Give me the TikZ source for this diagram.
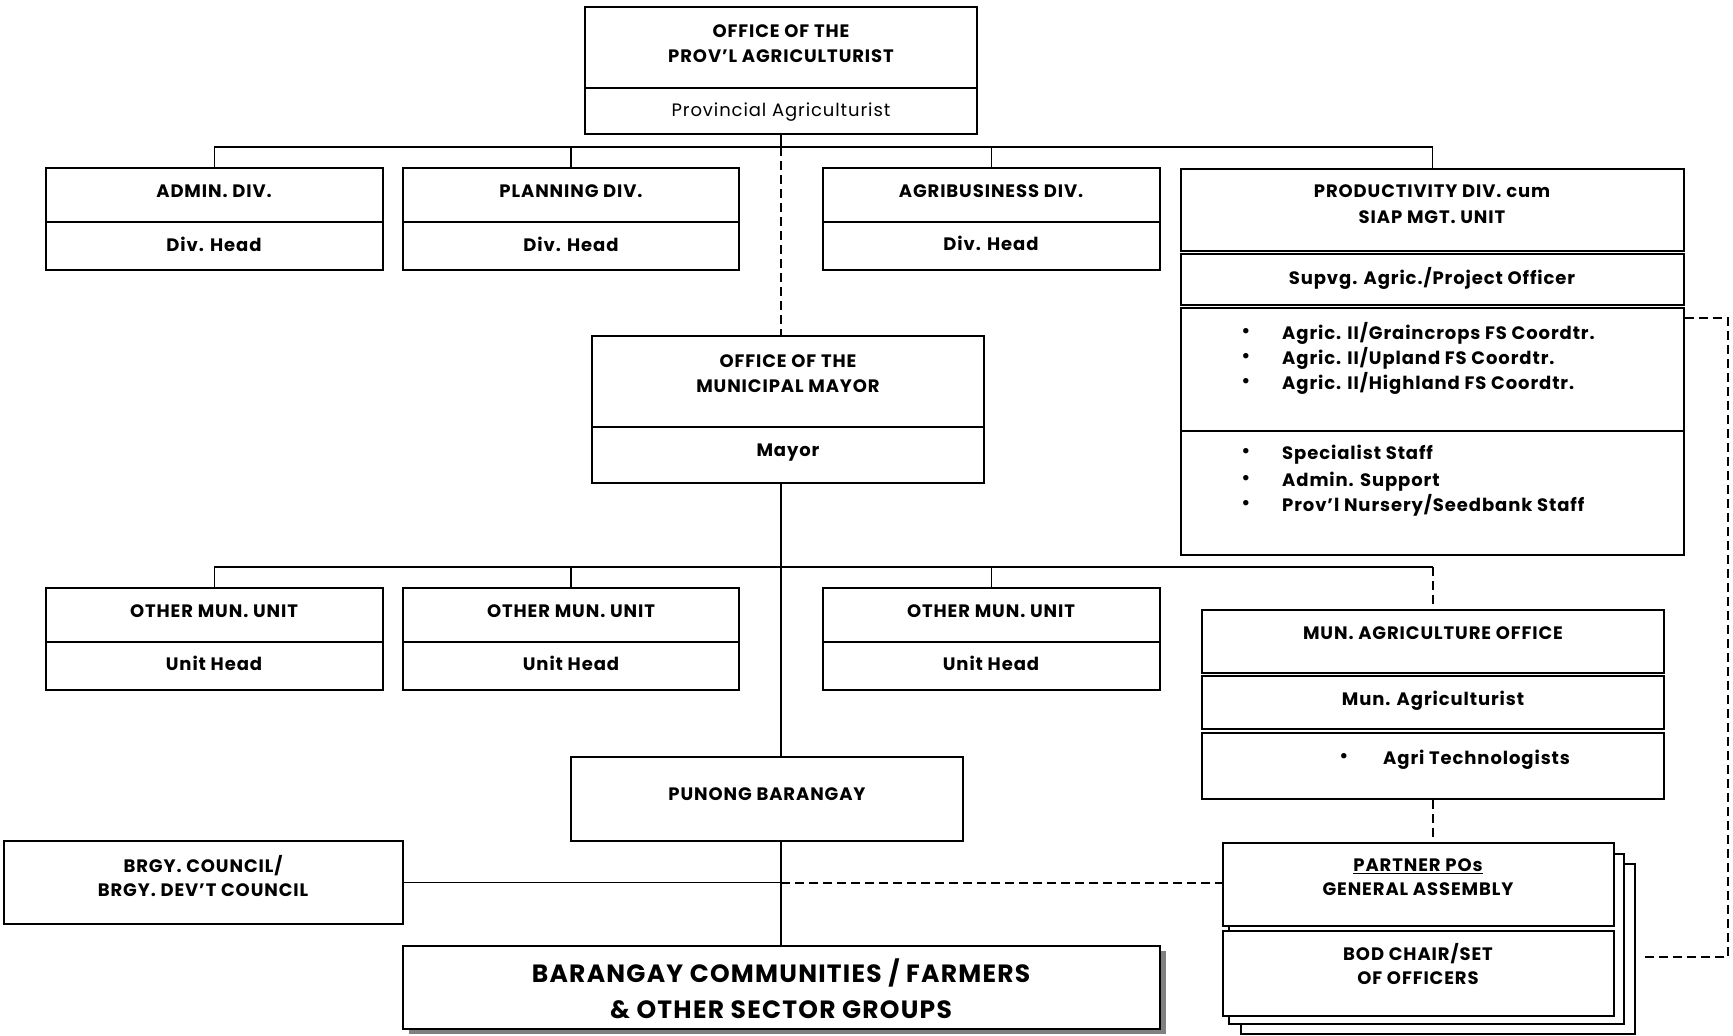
\documentclass[tikz,border=0pt]{standalone}
\usepackage{fontspec}
\setmainfont{Poppins}[LetterSpace=5]
\usetikzlibrary{fit}
\begin{document}
\begin{tikzpicture}[x=1pt,y=-1pt,
  frame/.style={draw, line width=1.6pt, fill=white, inner sep=0pt, rectangle},
  conn/.style={line width=1.5pt},
  dconn/.style={conn, dash pattern=on 9pt off 5pt},
  hd/.style={font=\bfseries\fontsize{18}{21}\selectfont, anchor=base, yshift=-6.3pt, inner sep=0pt},
  rg/.style={font=\fontsize{18}{21}\selectfont, anchor=base, yshift=-6.3pt, inner sep=0pt},
  big/.style={font=\bfseries\fontsize{25}{29}\selectfont, anchor=base, yshift=-8.7pt, inner sep=0pt},
  item/.style={hd, anchor=base west},
  dot/.style={font=\fontsize{22}{24}\selectfont, anchor=center, inner sep=0pt},
  shadowbox/.style={fill=black!50, draw=none, inner sep=0pt, rectangle}]
\useasboundingbox (0,0) rectangle (1733,1036);

% ---- Office of the Provincial Agriculturist
\node[frame, fit={(585,7) (977,88)}] (pa) {};
\node[frame, fit={(585,88) (977,134)}] (pah) {};

% ---- Provincial divisions
\node[frame, fit={(46,168) (383,222)}] (adm) {};
\node[frame, fit={(46,222) (383,270)}] (admh) {};
\node[frame, fit={(403,168) (739,222)}] (pln) {};
\node[frame, fit={(403,222) (739,270)}] (plnh) {};
\node[frame, fit={(823,168) (1160,222)}] (agb) {};
\node[frame, fit={(823,222) (1160,270)}] (agbh) {};
\node[frame, fit={(1181,169) (1684,251)}] (prd) {};
\node[frame, fit={(1181,254) (1684,305)}] (prdo) {};
\node[frame, fit={(1181,308) (1684,431)}] (prdc) {};
\node[frame, fit={(1181,431) (1684,555)}] (prds) {};

% ---- Office of the Municipal Mayor
\node[frame, fit={(592,336) (984,427)}] (may) {};
\node[frame, fit={(592,427) (984,483)}] (mayh) {};

% ---- Municipal units
\node[frame, fit={(46,588) (383,642)}] (ou1) {};
\node[frame, fit={(46,642) (383,690)}] (ou1h) {};
\node[frame, fit={(403,588) (739,642)}] (ou2) {};
\node[frame, fit={(403,642) (739,690)}] (ou2h) {};
\node[frame, fit={(823,588) (1160,642)}] (ou3) {};
\node[frame, fit={(823,642) (1160,690)}] (ou3h) {};
\node[frame, fit={(1202,610) (1664,673)}] (mao) {};
\node[frame, fit={(1202,676) (1664,729)}] (maoh) {};
\node[frame, fit={(1202,733) (1664,799)}] (maot) {};

% ---- Barangay level
\node[frame, fit={(571,757) (963,841)}] (pb) {};
\node[frame, fit={(4,841) (403,924)}] (bc) {};
\node[shadowbox, fit={(409,951) (1166,1034)}] (brgys) {};
\node[frame, fit={(403,946) (1160,1029)}] (brgy) {};

% ---- Partner POs (stacked sheets)
\node[frame, fit={(1241,864) (1635,1034)}] (po3) {};
\node[frame, fit={(1229,854) (1624,1024)}] (po2) {};
\node[frame, fit={(1223,843) (1614,926)}] (pog) {};
\node[frame, fit={(1223,931) (1614,1016)}] (pob) {};

% ---- Connectors
\coordinate (bus1) at (781,147);
\coordinate (bus2) at (781,567);
\coordinate (jn) at (781,883);
\coordinate (rc0) at (1728,318);
\coordinate (rc1) at (1728,957);
\coordinate (rc2) at (1641,957);

\draw[conn] (pah.south) -- (bus1);
\draw[conn] (adm.north) -- (adm.north |- bus1) -- (prd.north |- bus1) -- (prd.north);
\draw[conn] (pln.north) -- (pln.north |- bus1);
\draw[conn] (agb.north) -- (agb.north |- bus1);
\draw[dconn] (bus1) -- (bus1 |- may.north);

\draw[conn] (bus2 |- mayh.south) -- (bus2 |- pb.north);
\draw[conn] (ou1.north) -- (ou1.north |- bus2) -- (mao.north |- bus2);
\draw[conn] (ou2.north) -- (ou2.north |- bus2);
\draw[conn] (ou3.north) -- (ou3.north |- bus2);
\draw[dconn] (mao.north |- bus2) -- (mao.north);

\draw[conn] (bus2 |- pb.south) -- (bus2 |- brgy.north);
\draw[conn] (bc.east) -- (bc.east -| jn);
\draw[dconn] (jn) -- (jn -| pog.west);
\draw[dconn] (maot.south) -- (maot.south |- pog.north);
\draw[dconn] (prdc.east |- rc0) -- (rc0) -- (rc1) -- (rc2);

% ---- Texts
\node[hd] (t-pa1) at (781,31) {OFFICE OF THE};
\node[hd] (t-pa2) at (781,56) {PROV’L AGRICULTURIST};
\node[rg] (t-pa3) at (781,110) {Provincial Agriculturist};

\node[hd] (t-adm) at (214,191) {ADMIN. DIV.};
\node[hd] (t-admh) at (214,245) {Div. Head};
\node[hd] (t-pln) at (571,191) {PLANNING DIV.};
\node[hd] (t-plnh) at (571,245) {Div. Head};
\node[hd] (t-agb) at (991,191) {AGRIBUSINESS DIV.};
\node[hd] (t-agbh) at (991,244) {Div. Head};

\node[hd] (t-prd1) at (1432,191) {PRODUCTIVITY DIV. cum};
\node[hd] (t-prd2) at (1432,217) {SIAP MGT. UNIT};
\node[hd] (t-prdo) at (1432,278) {Supvg. Agric./Project Officer};
\foreach \yy/\txt [count=\i] in {333/{Agric. II/Graincrops FS Coordtr.},
                                 358/{Agric. II/Upland FS Coordtr.},
                                 383/{Agric. II/Highland FS Coordtr.},
                                 453/{Specialist Staff},
                                 480/{Admin. Support},
                                 505/{Prov’l Nursery/Seedbank Staff}} {
  \node[dot] (b-prd\i) at (1246,\yy) {•};
  \node[item] (t-prd\i) at (1282,\yy) {\txt};
}

\node[hd] (t-may1) at (788,361) {OFFICE OF THE};
\node[hd] (t-may2) at (788,386) {MUNICIPAL MAYOR};
\node[hd] (t-mayh) at (788,450) {Mayor};

\node[hd] (t-ou1) at (214,611) {OTHER MUN. UNIT};
\node[hd] (t-ou1h) at (214,664) {Unit Head};
\node[hd] (t-ou2) at (571,611) {OTHER MUN. UNIT};
\node[hd] (t-ou2h) at (571,664) {Unit Head};
\node[hd] (t-ou3) at (991,611) {OTHER MUN. UNIT};
\node[hd] (t-ou3h) at (991,664) {Unit Head};

\node[hd] (t-mao) at (1433,633) {MUN. AGRICULTURE OFFICE};
\node[hd] (t-maoh) at (1433,699) {Mun. Agriculturist};
\node[dot] (b-mao) at (1344,758) {•};
\node[item] (t-maot) at (1383,758) {Agri Technologists};

\node[hd] (t-pb) at (767,794) {PUNONG BARANGAY};
\node[hd] (t-bc1) at (203,866) {BRGY. COUNCIL/};
\node[hd] (t-bc2) at (203,890) {BRGY. DEV’T COUNCIL};

\node[hd] (t-po1) at (1418,865) {\underline{PARTNER POs}};
\node[hd] (t-po2) at (1418,889) {GENERAL ASSEMBLY};
\node[hd] (t-po3) at (1418,954) {BOD CHAIR/SET};
\node[hd] (t-po4) at (1418,978) {OF OFFICERS};

\node[big] (t-br1) at (781,974) {BARANGAY COMMUNITIES / FARMERS};
\node[big] (t-br2) at (781,1010) {\& OTHER SECTOR GROUPS};
\end{tikzpicture}
\end{document}
